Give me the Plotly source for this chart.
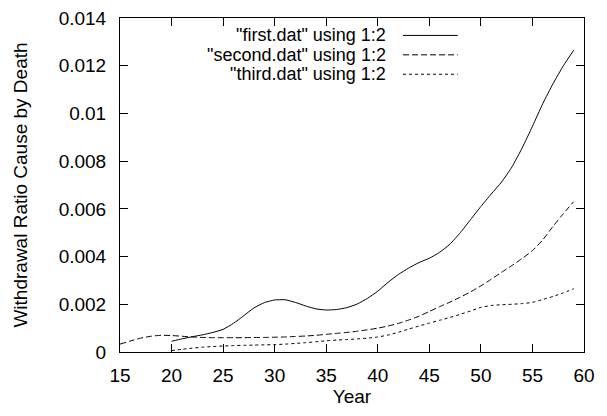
import plotly.graph_objects as go

# ---- data ----
years_first = list(range(20, 60))
first = [0.00045, 0.00055, 0.00064, 0.00072, 0.00082, 0.00095, 0.00120, 0.00152, 0.00185, 0.00207,
         0.00218, 0.00219, 0.00208, 0.00193, 0.00181, 0.00176, 0.00178, 0.00186, 0.00201, 0.00225,
         0.00255, 0.00292, 0.00325, 0.00352, 0.00375, 0.00393, 0.00418, 0.00452, 0.00500, 0.00555,
         0.00610, 0.00662, 0.00712, 0.00775, 0.00855, 0.00946, 0.01041, 0.01125, 0.01200, 0.01265]

years_second = list(range(15, 60))
second = [0.00033, 0.00046, 0.00058, 0.00066, 0.00070, 0.00069, 0.00066, 0.00063, 0.00061, 0.00060,
          0.00060, 0.00060, 0.00060, 0.00061, 0.00061, 0.00062, 0.00063, 0.00065, 0.00067, 0.00070,
          0.00074, 0.00078, 0.00082, 0.00087, 0.00093, 0.00100, 0.00109, 0.00120, 0.00134, 0.00150,
          0.00170, 0.00190, 0.00209, 0.00230, 0.00252, 0.00277, 0.00305, 0.00334, 0.00362, 0.00392,
          0.00425, 0.00470, 0.00527, 0.00580, 0.00630]

years_third = list(range(20, 60))
third = [0.00006, 0.00011, 0.00016, 0.00020, 0.00023, 0.00025, 0.00027, 0.00028, 0.00029, 0.00030,
         0.00031, 0.00033, 0.00036, 0.00039, 0.00043, 0.00047, 0.00050, 0.00052, 0.00055, 0.00058,
         0.00063, 0.00071, 0.00083, 0.00096, 0.00109, 0.00121, 0.00133, 0.00145, 0.00158, 0.00172,
         0.00187, 0.00195, 0.00198, 0.00200, 0.00203, 0.00208, 0.00220, 0.00233, 0.00248, 0.00265]

labels = ['"first.dat" using 1:2', '"second.dat" using 1:2', '"third.dat" using 1:2']
x_ticks = [15, 20, 25, 30, 35, 40, 45, 50, 55, 60]
y_ticks = [0, 0.002, 0.004, 0.006, 0.008, 0.01, 0.012, 0.014]
y_tick_text = ["0", "0.002", "0.004", "0.006", "0.008", "0.01", "0.012", "0.014"]

dashes = ["solid", "6px,3px", "3px,3px"]
series = [(years_first, first), (years_second, second), (years_third, third)]

FONT = "Liberation Sans, Arial, sans-serif"
FS = 19
LEG_FS = 18

fig = go.Figure()
for (xs, ys), name, dash in zip(series, labels, dashes):
    fig.add_trace(go.Scatter(x=xs, y=ys, mode="lines", name=name,
                             line=dict(color="black", width=1, dash=dash, shape="spline", smoothing=0.5),
                             showlegend=False))

# manual gnuplot-style legend (text right, sample left->right)
row_y = [0.9478, 0.8897, 0.8316]
for name, dash, yy in zip(labels, dashes, row_y):
    fig.add_annotation(xref="paper", yref="paper", x=0.5776, y=yy, text=name,
                       showarrow=False, xanchor="right", yanchor="middle",
                       font=dict(family=FONT, size=LEG_FS, color="black"))
    fig.add_shape(type="line", xref="paper", yref="paper", x0=0.610, x1=0.728, y0=yy, y1=yy,
                  line=dict(color="black", width=1, dash=dash))

axis_common = dict(showline=True, linecolor="black", linewidth=1, mirror="ticks",
                   ticks="inside", ticklen=8, tickcolor="black", tickwidth=1,
                   showgrid=False, zeroline=False, ticklabeloverflow="allow",
                   tickfont=dict(family=FONT, size=FS, color="black"))

fig.update_xaxes(range=[15, 60], tickvals=x_ticks, ticktext=[str(v) for v in x_ticks],
                 ticklabelstandoff=6,
                 title=dict(text="Year", font=dict(family=FONT, size=FS, color="black"), standoff=3),
                 **axis_common)
fig.update_yaxes(range=[0, 0.014], tickvals=y_ticks, ticktext=y_tick_text,
                 ticklabelstandoff=9,
                 title=dict(text="Withdrawal Ratio Cause by Death",
                            font=dict(family=FONT, size=FS, color="black"), standoff=26),
                 **axis_common)

fig.update_layout(width=607, height=416,
                  margin=dict(l=120, r=23, t=8, b=64),
                  plot_bgcolor="white", paper_bgcolor="white",
                  font=dict(family=FONT, size=FS, color="black"))

fig.write_html("out.html", config={"displayModeBar": False},
               post_script="document.body.style.margin='0';")
